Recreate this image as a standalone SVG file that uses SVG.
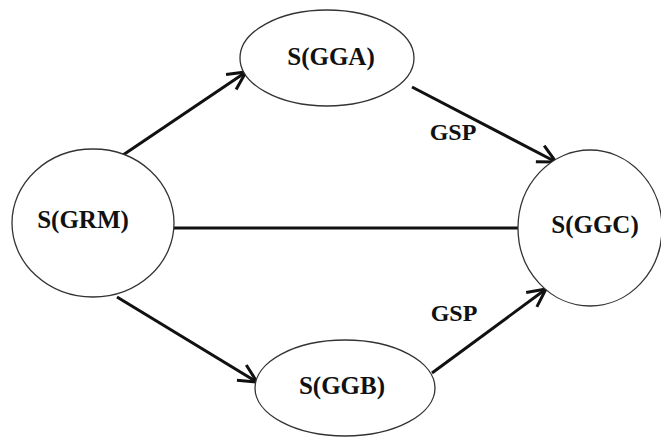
<svg xmlns="http://www.w3.org/2000/svg" width="661" height="439" viewBox="0 0 661 439">
<style>
.node{fill:#fff;stroke:#333;stroke-width:1.3}
.lbl{font-family:"Liberation Serif",serif;font-weight:bold;font-size:25px;fill:#111;text-anchor:middle}
.gsp{font-size:24px}
.edge{stroke:#111;stroke-width:3;fill:none}
</style>
<defs>
<marker id="arr" viewBox="0 0 22 22" refX="20" refY="11" markerWidth="22" markerHeight="22" markerUnits="userSpaceOnUse" orient="auto">
<path d="M2,2 L20,11 L2,20" fill="none" stroke="#111" stroke-width="3"/>
</marker>
</defs>
<rect width="661" height="439" fill="#fff"/>
<g id="connectors">
<line class="edge" x1="123" y1="155" x2="246" y2="72" marker-end="url(#arr)"/>
<line class="edge" x1="412" y1="87" x2="556" y2="162" marker-end="url(#arr)"/>
<line class="edge" x1="174" y1="228" x2="518" y2="228"/>
<line class="edge" x1="117" y1="297" x2="257" y2="382" marker-end="url(#arr)"/>
<line class="edge" x1="432" y1="373" x2="546" y2="289" marker-end="url(#arr)"/>
<text class="lbl gsp" x="453" y="140">GSP</text>
<text class="lbl gsp" x="454" y="321">GSP</text>
</g>
<g id="GRM">
<ellipse class="node" cx="93" cy="223" rx="81" ry="74"/>
<text class="lbl" x="83" y="228">S(GRM)</text>
</g>
<g id="GGA">
<ellipse class="node" cx="327" cy="58" rx="87" ry="48"/>
<text class="lbl" x="331" y="65">S(GGA)</text>
</g>
<g id="GGC">
<ellipse class="node" cx="590" cy="228" rx="72" ry="78"/>
<text class="lbl" x="595" y="233">S(GGC)</text>
</g>
<g id="GGB">
<ellipse class="node" cx="345" cy="388" rx="90" ry="48"/>
<text class="lbl" x="342" y="394">S(GGB)</text>
</g>
</svg>
